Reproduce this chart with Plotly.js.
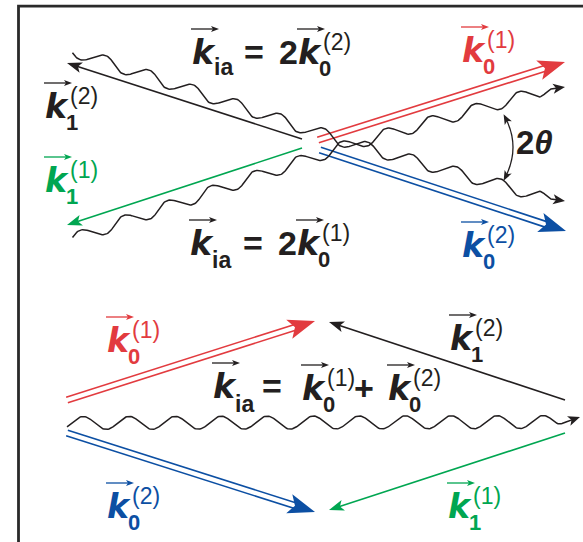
<!DOCTYPE html>
<html>
<head>
<meta charset="utf-8">
<script src="https://cdn.plot.ly/plotly-3.0.1.min.js"></script>
<style>
  html, body { margin: 0; padding: 0; background: #fff; }
  #plot { width: 583px; height: 542px; }
</style>
</head>
<body>
<div id="plot"></div>
<script>
// Diagram geometry in pixel units of the drawing area (y grows downward).
// Beams: [x_from, y_from, x_tip, y_tip]
const redTop      = [318, 140, 565, 62];
const blueTop     = [320, 150, 566, 231];
const blackTop    = [302, 139, 67, 63];
const greenTop    = [302, 148, 67, 225];
const redBottom   = [67, 400, 315, 321];
const blueBottom  = [67, 433, 315, 512];
const blackBottom = [565, 400, 329, 322];
const greenBottom = [565, 433, 329, 510];

// Ion-acoustic waves: centre-line vertices, then arrow tip
const waveUpperPts = [[73, 51], [352, 144], [551, 199]];
const waveUpperTip = [565, 201];
const waveLowerPts = [[73, 239], [352, 144], [551, 89]];
const waveLowerTip = [565, 87];
const waveFlatPts  = [[67, 423], [566, 422]];
const waveFlatTip  = [580, 417];

// Angle marker between the two scattered waves: start, control, end
const angleArc = [[505, 117], [521, 147], [505, 178]];

// Vector labels: [k left x, k baseline y, colour key, subscript, superscript]
const vecLabels = [
  [45, 118, 'black', '1', '(2)'],
  [45, 192, 'green', '1', '(1)'],
  [462, 62, 'red', '0', '(1)'],
  [462, 257, 'blue', '0', '(2)'],
  [298, 64, 'black', '0', '(2)'],
  [297, 255, 'black', '0', '(1)'],
  [107, 352, 'red', '0', '(1)'],
  [107, 518, 'blue', '0', '(2)'],
  [450, 350, 'black', '1', '(2)'],
  [448, 518, 'green', '1', '(1)'],
  [302, 400, 'black', '0', '(1)'],
  [388, 400, 'black', '0', '(2)']
];
// k_ia labels: [k left x, k baseline y, subscript baseline y]
const kiaLabels = [[192, 64, 75], [190, 255, 268], [213, 398, 412]];
// Operators: [text, left x, baseline y]
const operators = [
  ['=', 244, 64], ['2', 279, 64],
  ['=', 243, 255], ['2', 278, 255],
  ['=', 262, 398], ['+', 354, 400]
];

const COL = { red: '#e23b3f', blue: '#0c4fa3', green: '#00a651', black: '#231f20' };
const FONT = 'Liberation Sans, Arial, Helvetica, sans-serif';
const FONT_K = 'DejaVu Sans, Liberation Sans, sans-serif';

const traces = [], shapes = [], annotations = [];

function unit(dx, dy) { const l = Math.hypot(dx, dy); return [dx / l, dy / l]; }

function head(tx, ty, ux, uy, len, hw, notch, color) {
  const bx = tx - ux * len, by = ty - uy * len;
  const nx = -uy, ny = ux;
  const mx = tx - ux * (len - notch), my = ty - uy * (len - notch);
  shapes.push({
    type: 'path', xref: 'x', yref: 'y',
    path: `M${tx},${ty} L${bx + nx * hw},${by + ny * hw} L${mx},${my} L${bx - nx * hw},${by - ny * hw} Z`,
    fillcolor: color, line: { width: 0 }, layer: 'above'
  });
  return [mx, my];
}

function line(xs, ys, color, w) {
  traces.push({ type: 'scatter', mode: 'lines', x: xs, y: ys,
    line: { color: color, width: w }, hoverinfo: 'skip', showlegend: false });
}

function singleArrow(v, color) {
  const [x0, y0, x1, y1] = v;
  const [ux, uy] = unit(x1 - x0, y1 - y0);
  const [mx, my] = head(x1, y1, ux, uy, 15, 5.5, 3.5, color);
  line([x0, mx + ux * 2], [y0, my + uy * 2], color, 1.6);
}

function doubleArrow(v, color) {
  const [x0, y0, x1, y1] = v;
  const [ux, uy] = unit(x1 - x0, y1 - y0);
  const [mx, my] = head(x1, y1, ux, uy, 27, 10, 6, color);
  const nx = -uy, ny = ux, g = 2.9;
  [-1, 1].forEach(s => {
    line([x0 + nx * g * s, mx + nx * g * s + ux * 3],
         [y0 + ny * g * s, my + ny * g * s + uy * 3], color, 1.6);
  });
}

// Dense centre-line with a rounded corner at the middle vertex
function centreLine(pts, r) {
  const out = [];
  const seg = (a, b) => {
    const n = Math.max(2, Math.ceil(Math.hypot(b[0] - a[0], b[1] - a[1])));
    for (let i = 0; i < n; i++) out.push([a[0] + (b[0] - a[0]) * i / n, a[1] + (b[1] - a[1]) * i / n]);
  };
  if (pts.length === 2) { seg(pts[0], pts[1]); out.push(pts[1]); return out; }
  const [p0, p1, p2] = pts;
  const u1 = unit(p1[0] - p0[0], p1[1] - p0[1]);
  const u2 = unit(p2[0] - p1[0], p2[1] - p1[1]);
  const q1 = [p1[0] - u1[0] * r, p1[1] - u1[1] * r];
  const q2 = [p1[0] + u2[0] * r, p1[1] + u2[1] * r];
  seg(p0, q1);
  const nb = Math.ceil(2 * r);
  for (let i = 0; i < nb; i++) {
    const t = i / nb, a = (1 - t) * (1 - t), b = 2 * t * (1 - t), c = t * t;
    out.push([a * q1[0] + b * p1[0] + c * q2[0], a * q1[1] + b * p1[1] + c * q2[1]]);
  }
  seg(q2, p2); out.push(p2);
  return out;
}

function wave(pts, tip, amp, lambda, phase, color) {
  const c = centreLine(pts, 30);
  const s = [0];
  for (let i = 1; i < c.length; i++) s.push(s[i - 1] + Math.hypot(c[i][0] - c[i - 1][0], c[i][1] - c[i - 1][1]));
  const S = s[s.length - 1];
  const xs = [], ys = [];
  for (let i = 0; i < c.length; i++) {
    const a = c[Math.max(0, i - 1)], b = c[Math.min(c.length - 1, i + 1)];
    const [tx, ty] = unit(b[0] - a[0], b[1] - a[1]);
    const env = Math.min(1, (S - s[i]) / 14);
    const off = amp * env * Math.sin(2 * Math.PI * s[i] / lambda + phase);
    xs.push(c[i][0] - ty * off);
    ys.push(c[i][1] + tx * off);
  }
  const last = c[c.length - 1];
  const [ux, uy] = unit(tip[0] - last[0], tip[1] - last[1]);
  const [mx, my] = head(tip[0], tip[1], ux, uy, 12, 5, 3, color);
  xs.push(mx + ux * 2); ys.push(my + uy * 2);
  line(xs, ys, color, 1.5);
}

// Text placed by its left edge and baseline
function text(str, x, base, size, color, weight, style, family) {
  annotations.push({
    xref: 'x', yref: 'y', x: x - 2, y: base - 0.3465 * size,
    xanchor: 'left', yanchor: 'middle', showarrow: false, text: str,
    font: { family: family || FONT, size: size, color: color, weight: weight, style: style || 'normal' }
  });
}

function overArrow(x0, x1, y, color) {
  line([x0, x1 - 5], [y, y], color, 1.3);
  head(x1, y, 1, 0, 8, 3, 2, color);
}

function vecK(kx, kb, color) {
  text('k', kx, kb, 33, color, 'bold', 'italic', FONT_K);
  overArrow(kx - 1, kx + 27, kb - 35, color);
}

// ---- beams ----
doubleArrow(redTop, COL.red);
doubleArrow(blueTop, COL.blue);
singleArrow(blackTop, COL.black);
singleArrow(greenTop, COL.green);
doubleArrow(redBottom, COL.red);
doubleArrow(blueBottom, COL.blue);
singleArrow(blackBottom, COL.black);
singleArrow(greenBottom, COL.green);

// ---- waves ----
wave(waveUpperPts, waveUpperTip, 6, 46, 0.3, COL.black);
wave(waveLowerPts, waveLowerTip, 6, 46, 3.4, COL.black);
wave(waveFlatPts, waveFlatTip, 6.5, 46, 2.5, COL.black);

// ---- 2θ marker ----
{
  const [a, ctl, b] = angleArc;
  shapes.push({ type: 'path', xref: 'x', yref: 'y',
    path: `M${a[0]},${a[1]} Q${ctl[0]},${ctl[1]} ${b[0]},${b[1]}`,
    line: { color: COL.black, width: 1.3 }, layer: 'above' });
  const [u1x, u1y] = unit(a[0] - ctl[0], a[1] - ctl[1]);
  head(a[0] + u1x * 3, a[1] + u1y * 3, u1x, u1y, 10, 4, 2.5, COL.black);
  const [u2x, u2y] = unit(b[0] - ctl[0], b[1] - ctl[1]);
  head(b[0] + u2x * 3, b[1] + u2y * 3, u2x, u2y, 10, 4, 2.5, COL.black);
  text('2<i>θ</i>', 516, 154, 33, COL.black, 'bold');
}

// ---- labels ----
vecLabels.forEach(([kx, kb, ck, sub, sup]) => {
  const color = COL[ck];
  vecK(kx, kb, color);
  text(sup, kx + 25, kb - 14, 23, color, 'normal');
  text(sub, kx + 21, kb + 12, 22, color, 'bold');
});
kiaLabels.forEach(([kx, kb, sb]) => {
  vecK(kx, kb, COL.black);
  text('ia', kx + 22, sb, 23, COL.black, 'bold');
});
operators.forEach(([t, x, b]) => text(t, x, b, 34, COL.black, 'bold'));

// ---- frame ----
shapes.push({ type: 'rect', xref: 'x', yref: 'y', x0: 18.5, y0: 6.2, x1: 640, y1: 620,
  line: { color: '#2a2a2a', width: 2.8 }, fillcolor: 'rgba(0,0,0,0)', layer: 'above' });

const layout = {
  width: 583, height: 542,
  margin: { l: 0, r: 0, t: 0, b: 0, pad: 0 },
  xaxis: { range: [0, 583], visible: false, fixedrange: true },
  yaxis: { range: [542, 0], visible: false, fixedrange: true },
  paper_bgcolor: '#ffffff', plot_bgcolor: '#ffffff',
  showlegend: false, shapes: shapes, annotations: annotations
};

Plotly.newPlot('plot', traces, layout, { staticPlot: true, displayModeBar: false });
</script>
</body>
</html>
